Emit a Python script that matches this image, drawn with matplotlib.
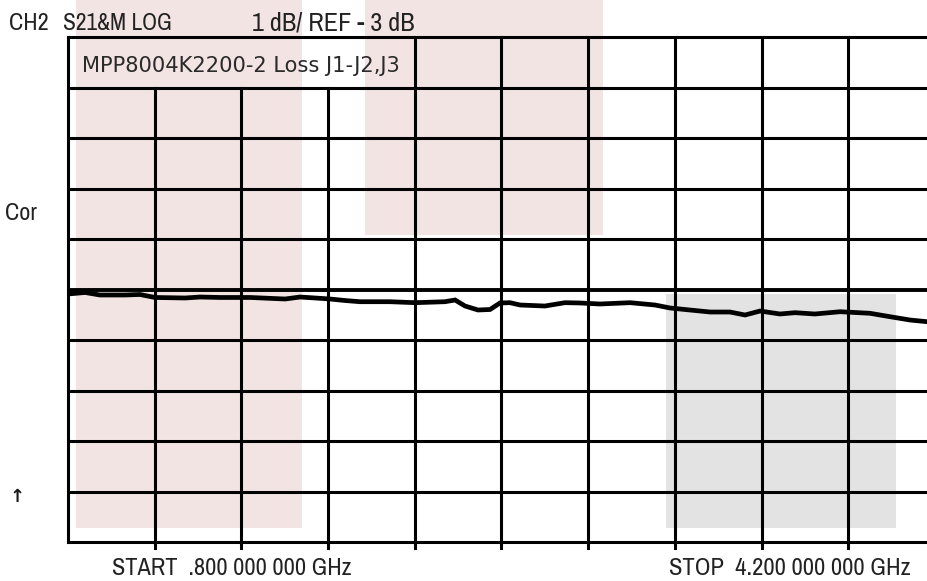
import matplotlib
matplotlib.use("Agg")
import matplotlib.pyplot as plt
from matplotlib.patches import Rectangle
from matplotlib import font_manager
import numpy as np

# ---- data ----
freq_ghz = [0.800, 0.867, 0.925, 1.024, 1.082, 1.141, 1.259, 1.318, 1.396, 1.514,
            1.651, 1.710, 1.769, 1.827, 1.886, 1.945, 2.063, 2.161, 2.278, 2.318,
            2.357, 2.408, 2.455, 2.494, 2.533, 2.573, 2.670, 2.749, 2.808, 2.886,
            3.004, 3.102, 3.161, 3.239, 3.318, 3.396, 3.455, 3.514, 3.592, 3.651,
            3.729, 3.828, 3.945, 4.024, 4.102, 4.169, 4.200]
loss_db = [-3.089, -3.059, -3.109, -3.109, -3.099, -3.158, -3.168, -3.149, -3.158, -3.158,
           -3.188, -3.149, -3.168, -3.188, -3.218, -3.242, -3.242, -3.261, -3.242, -3.208,
           -3.327, -3.406, -3.396, -3.267, -3.261, -3.307, -3.327, -3.261, -3.267, -3.287,
           -3.261, -3.307, -3.366, -3.406, -3.446, -3.446, -3.505, -3.426, -3.485, -3.459,
           -3.485, -3.440, -3.471, -3.539, -3.604, -3.638, -3.653]

start_ghz = 0.8
stop_ghz = 4.2
ref_db = -3.0
scale_db = 1.0
n_div = 10

header_ch = "CH2"
header_meas = "S21&M LOG"
header_scale = "1 dB/ REF - 3 dB"
title_text = "MPP8004K2200-2 Loss J1-J2,J3"
side_cor = "Cor"
side_mark = "\u2191"
start_label = "START  .800 000 000 GHz"
stop_label = "STOP  4.200 000 000 GHz"

W, H = 927, 581
fig = plt.figure(figsize=(W / 100, H / 100), dpi=100)
fig.patch.set_facecolor("white")

def fx(px):
    return px / W

def fy(py):
    return 1 - py / H

# background shaded regions (screen artifacts)
fig.add_artist(Rectangle((fx(76), fy(528)), fx(302) - fx(76), fy(0) - fy(528),
                         transform=fig.transFigure, facecolor="#f3e4e4", edgecolor="none", zorder=-5))
fig.add_artist(Rectangle((fx(365), fy(235)), fx(603) - fx(365), fy(0) - fy(235),
                         transform=fig.transFigure, facecolor="#f3e4e4", edgecolor="none", zorder=-5))
fig.add_artist(Rectangle((fx(666), fy(528)), fx(896) - fx(666), fy(294) - fy(528),
                         transform=fig.transFigure, facecolor="#e3e3e3", edgecolor="none", zorder=-5))

left, right, top, bottom = 68, 935, 37, 542
ax = fig.add_axes([fx(left), fy(bottom), fx(right) - fx(left), fy(top) - fy(bottom)])
ax.set_facecolor("none")
ax.set_xlim(start_ghz, stop_ghz)
ymin = ref_db - scale_db * n_div / 2
ymax = ref_db + scale_db * n_div / 2
ax.set_ylim(ymin, ymax)
for s in ax.spines.values():
    s.set_linewidth(2.2)
    s.set_color("black")
ax.set_xticks([])
ax.set_yticks([])

step = (stop_ghz - start_ghz) / n_div
for k in range(1, n_div):
    xv = start_ghz + k * step
    ytop = 0.9 if k <= 3 else 1.0
    ax.axvline(xv, ymin=-0.012, ymax=ytop, color="black", lw=2.2, clip_on=False, zorder=1)
for k in range(1, n_div):
    yv = ymin + k * scale_db
    ax.axhline(yv, color="black", lw=2.2 if k != n_div // 2 else 2.8, zorder=1)

ax.plot(freq_ghz, loss_db, color="black", lw=3.4, zorder=3, solid_joinstyle="miter")

names = set(f.name for f in font_manager.fontManager.ttflist)
narrow_family = "DejaVu Sans"
for cand in ["Archivo Narrow", "Roboto Condensed", "Asap Condensed", "PT Sans Narrow"]:
    if cand in names:
        narrow_family = cand
        break
hdr_kw = dict(family=[narrow_family, "DejaVu Sans"], fontweight="bold", color="#222222",
              va="baseline")

fig.canvas.draw()
renderer = fig.canvas.get_renderer()

def fit_text(x0, x1, ybase, s, size, **kw):
    t = fig.text(fx(x0), fy(ybase), s, fontsize=size, **kw)
    bb = t.get_window_extent(renderer)
    t.set_fontsize(size * (x1 - x0) / bb.width)
    return t

t1 = fit_text(63, 172, 30, header_meas, 15, **hdr_kw)
t2 = fit_text(252, 427, 30, header_scale, 15, **hdr_kw)
t3 = fit_text(112, 352, 575, start_label, 15, **hdr_kw)
t4 = fit_text(669, 911, 575, stop_label, 15, **hdr_kw)
base_size = (t1.get_fontsize() + t3.get_fontsize() + t4.get_fontsize()) / 3
t2.set_fontsize((t2.get_fontsize() + base_size) / 2)
fig.text(fx(9), fy(30), header_ch, fontsize=base_size, **hdr_kw)
fig.text(fx(5), fy(220), side_cor, fontsize=base_size, **hdr_kw)
fit_text(82, 400, 72, title_text, 15, family=["DejaVu Sans"], color="#2a2a2a", va="baseline")
fig.text(fx(17), fy(497), side_mark, fontsize=13, family=["DejaVu Sans"], color="#1a1a1a",
         va="center", ha="center", fontweight="bold")

fig.savefig("out.png", dpi=100)
